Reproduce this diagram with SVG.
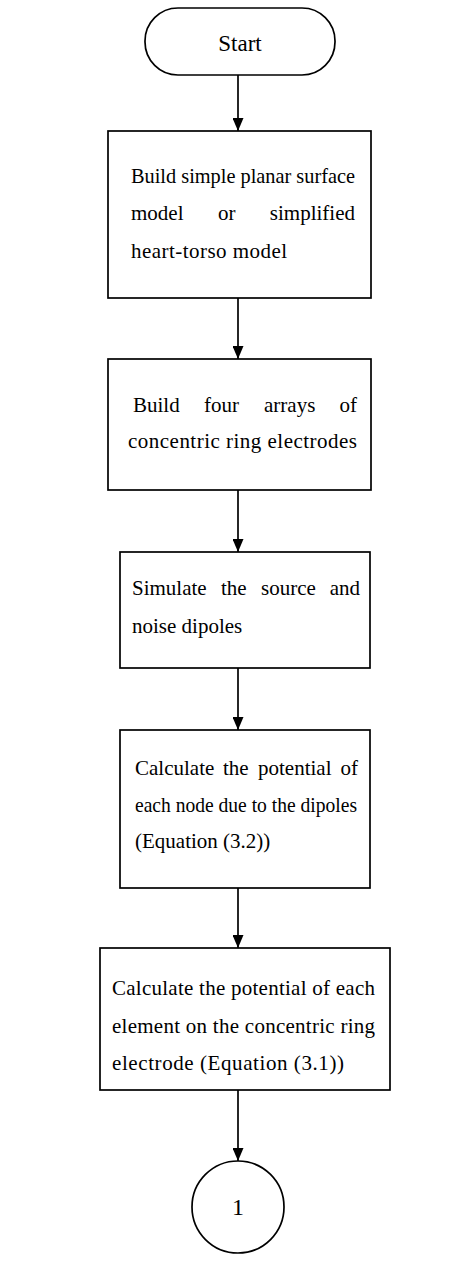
<svg xmlns="http://www.w3.org/2000/svg" width="453" height="1271" viewBox="0 0 453 1271">
<style>
.box{fill:#fff;stroke:#000;stroke-width:1.7}
.t{font-family:"Liberation Serif","Times New Roman",serif;font-size:21px;fill:#000}
.e{text-anchor:end}
.c{stroke:#000;stroke-width:1.7;fill:none}
</style>
<defs>
<marker id="ah" markerWidth="13" markerHeight="11" refX="13" refY="5.5" orient="auto" markerUnits="userSpaceOnUse" viewBox="0 0 13 11">
<path d="M0,0 L13,5.5 L0,11 Z" fill="#000"/>
</marker>
</defs>
<g id="connectors">
<line class="c" x1="238" y1="75" x2="238" y2="131" marker-end="url(#ah)"/>
<line class="c" x1="238" y1="298" x2="238" y2="359" marker-end="url(#ah)"/>
<line class="c" x1="238" y1="490" x2="238" y2="552" marker-end="url(#ah)"/>
<line class="c" x1="238" y1="668" x2="238" y2="730" marker-end="url(#ah)"/>
<line class="c" x1="238" y1="888" x2="238" y2="948" marker-end="url(#ah)"/>
<line class="c" x1="238" y1="1090" x2="238" y2="1161" marker-end="url(#ah)"/>
</g>
<g id="start">
<rect class="box" x="145" y="8" width="190" height="67" rx="33" ry="33"/>
<text class="t" x="240" y="51" text-anchor="middle" style="font-size:23px">Start</text>
</g>
<g id="box1">
<rect class="box" x="108" y="131" width="263" height="167"/>
<text class="t" x="131" y="183" textLength="224" lengthAdjust="spacingAndGlyphs">Build simple planar surface</text>
<text class="t" x="131" y="220">model</text>
<text class="t" x="218" y="220">or</text>
<text class="t e" x="355" y="220">simplified</text>
<text class="t" x="131" y="258" textLength="156" lengthAdjust="spacing">heart-torso model</text>
</g>
<g id="box2">
<rect class="box" x="108" y="359" width="263" height="131"/>
<text class="t" x="133" y="412">Build</text>
<text class="t" x="204" y="412">four</text>
<text class="t" x="264" y="412">arrays</text>
<text class="t e" x="357" y="412">of</text>
<text class="t" x="128" y="448" textLength="229" lengthAdjust="spacing">concentric ring electrodes</text>
</g>
<g id="box3">
<rect class="box" x="120" y="552" width="250" height="116"/>
<text class="t" x="132" y="595">Simulate</text>
<text class="t" x="221" y="595">the</text>
<text class="t" x="261" y="595">source</text>
<text class="t e" x="360" y="595">and</text>
<text class="t" x="132" y="633">noise dipoles</text>
</g>
<g id="box4">
<rect class="box" x="120" y="730" width="250" height="158"/>
<text class="t" x="135" y="775">Calculate</text>
<text class="t" x="223" y="775">the</text>
<text class="t" x="258" y="775">potential</text>
<text class="t e" x="358" y="775">of</text>
<text class="t" x="135" y="812" textLength="222" lengthAdjust="spacingAndGlyphs">each node due to the dipoles</text>
<text class="t" x="135" y="848">(Equation (3.2))</text>
</g>
<g id="box5">
<rect class="box" x="100" y="948" width="290" height="142"/>
<text class="t" x="112" y="995" textLength="263" lengthAdjust="spacing">Calculate the potential of each</text>
<text class="t" x="112" y="1033" textLength="263" lengthAdjust="spacing">element on the concentric ring</text>
<text class="t" x="112" y="1070" textLength="232" lengthAdjust="spacing">electrode (Equation (3.1))</text>
</g>
<g id="connector1">
<circle class="box" cx="238" cy="1207" r="46"/>
<text class="t" x="238" y="1215" text-anchor="middle" style="font-size:24px">1</text>
</g>
</svg>
